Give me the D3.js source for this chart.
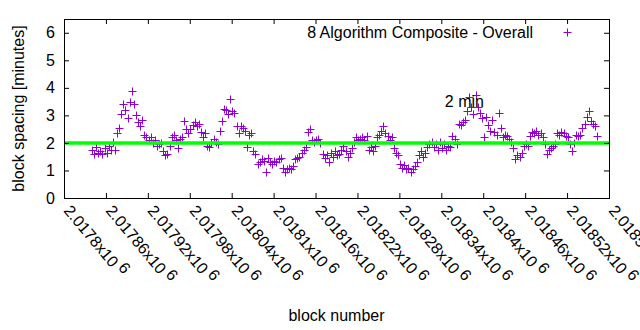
<!DOCTYPE html>
<html>
<head>
<meta charset="utf-8">
<script src="https://cdn.jsdelivr.net/npm/d3@7"></script>
<style>
  html, body { margin: 0; padding: 0; background: #fff; }
  svg { display: block; font-family: "Liberation Sans", Arial, sans-serif; }
</style>
</head>
<body>
<svg id="chart" width="640" height="330"></svg>
<script>
// ---- data ----
const seriesName = "8 Algorithm Composite - Overall";
const targetLabel = "2 min";
const targetValue = 2;
const targetLabelPos = [2018345, 3.5];

const xTickValues = [2017800, 2017860, 2017920, 2017980, 2018040, 2018100, 2018160,
                     2018220, 2018280, 2018340, 2018400, 2018460, 2018520, 2018580];
const xTickMantissas = ["2.0178", "2.01786", "2.01792", "2.01798", "2.01804", "2.0181", "2.01816",
                        "2.01822", "2.01828", "2.01834", "2.0184", "2.01846", "2.01852", "2.01858"];
const yTickValues = [0, 1, 2, 3, 4, 5, 6];

const blocks = [
  2017840, 2017843, 2017846, 2017849, 2017852, 2017855, 2017858, 2017861, 2017864, 2017867,
  2017870, 2017873, 2017876, 2017879, 2017882, 2017885, 2017888, 2017891, 2017894, 2017897,
  2017900, 2017903, 2017906, 2017909, 2017912, 2017915, 2017918, 2017921, 2017924, 2017927,
  2017930, 2017933, 2017936, 2017939, 2017942, 2017945, 2017948, 2017951, 2017954, 2017957,
  2017960, 2017963, 2017966, 2017969, 2017972, 2017975, 2017978, 2017981, 2017984, 2017987,
  2017990, 2017993, 2017996, 2017999, 2018002, 2018005, 2018008, 2018011, 2018014, 2018017,
  2018020, 2018023, 2018026, 2018029, 2018032, 2018035, 2018038, 2018041, 2018044, 2018047,
  2018050, 2018053, 2018056, 2018059, 2018062, 2018065, 2018068, 2018071, 2018074, 2018077,
  2018080, 2018083, 2018086, 2018089, 2018092, 2018095, 2018098, 2018101, 2018104, 2018107,
  2018110, 2018113, 2018116, 2018119, 2018122, 2018125, 2018128, 2018131, 2018134, 2018137,
  2018140, 2018143, 2018146, 2018149, 2018152, 2018155, 2018158, 2018161, 2018164, 2018167,
  2018170, 2018173, 2018176, 2018179, 2018182, 2018185, 2018188, 2018191, 2018194, 2018197,
  2018200, 2018203, 2018206, 2018209, 2018212, 2018215, 2018218, 2018221, 2018224, 2018227,
  2018230, 2018233, 2018236, 2018239, 2018242, 2018245, 2018248, 2018251, 2018254, 2018257,
  2018260, 2018263, 2018266, 2018269, 2018272, 2018275, 2018278, 2018281, 2018284, 2018287,
  2018290, 2018293, 2018296, 2018299, 2018302, 2018305, 2018308, 2018311, 2018314, 2018317,
  2018320, 2018323, 2018326, 2018329, 2018332, 2018335, 2018338, 2018341, 2018344, 2018347,
  2018350, 2018353, 2018356, 2018359, 2018362, 2018365, 2018368, 2018371, 2018374, 2018377,
  2018380, 2018383, 2018386, 2018389, 2018392, 2018395, 2018398, 2018401, 2018404, 2018407,
  2018410, 2018413, 2018416, 2018419, 2018422, 2018425, 2018428, 2018431, 2018434, 2018437,
  2018440, 2018443, 2018446, 2018449, 2018452, 2018455, 2018458, 2018461, 2018464, 2018467,
  2018470, 2018473, 2018476, 2018479, 2018482, 2018485, 2018488, 2018491, 2018494, 2018497,
  2018500, 2018503, 2018506, 2018509, 2018512, 2018515, 2018518, 2018521, 2018524, 2018527,
  2018530, 2018533, 2018536, 2018539, 2018542, 2018545, 2018548, 2018551, 2018554, 2018557,
  2018560, 2018563
];
const spacing = [
  1.75, 1.60, 1.85, 1.65, 1.70, 1.60, 1.80, 1.65, 1.90, 1.75,
  2.05, 1.75, 2.35, 2.55, 3.05, 3.40, 3.20, 2.90, 3.50, 3.90,
  3.40, 3.00, 2.75, 2.60, 2.85, 2.30, 2.20, 2.10, 2.20, 2.00,
  2.10, 1.90, 1.95, 2.00, 1.70, 1.55, 1.60, 1.90, 2.20, 2.30,
  2.10, 1.80, 2.15, 2.20, 2.80, 2.50, 2.35, 2.50, 2.65, 2.75,
  2.60, 2.70, 2.40, 2.20, 2.35, 1.90, 1.85, 2.00, 2.15, 2.05,
  1.95, 2.45, 2.80, 3.25, 3.20, 3.05, 3.60, 3.15, 3.10, 2.60,
  2.35, 2.60, 2.55, 2.45, 1.85, 2.30, 2.35, 1.70, 1.60, 1.25,
  1.30, 1.40, 1.35, 0.95, 1.45, 1.30, 1.25, 1.35, 1.30, 1.40,
  1.45, 1.10, 0.95, 1.05, 1.10, 1.05, 1.15, 1.40, 1.45, 1.50,
  1.65, 1.75, 1.85, 2.40, 2.50, 2.10, 2.05, 2.10, 2.15, 2.00,
  1.60, 1.45, 1.55, 1.30, 1.65, 1.50, 1.70, 1.55, 1.60, 1.75,
  1.90, 1.70, 1.50, 1.65, 1.80, 2.05, 2.20, 2.10, 2.15, 2.20,
  2.10, 2.25, 1.75, 1.85, 1.70, 1.90, 2.20, 2.30, 2.45, 2.60,
  2.35, 2.25, 2.10, 2.20, 1.80, 1.65, 1.55, 1.25, 1.10, 1.20,
  1.05, 1.10, 0.95, 1.05, 1.15, 1.30, 1.55, 1.70, 1.50, 1.65,
  1.85, 1.95, 2.05, 1.85, 1.95, 1.75, 2.05, 1.80, 1.95, 1.75,
  1.90, 1.85, 2.25, 2.15, 1.95, 2.70, 2.65, 2.75, 2.85, 3.15,
  3.65, 3.30, 3.05, 3.75, 3.30, 3.10, 2.90, 2.20, 2.95, 2.65,
  2.45, 2.85, 2.40, 2.30, 3.10, 2.55, 2.20, 2.30, 2.25, 2.15,
  2.05, 1.80, 1.40, 1.55, 1.50, 1.65, 1.90, 1.95, 1.90, 2.25,
  2.40, 2.35, 2.45, 2.30, 2.35, 2.20, 1.95, 1.60, 1.75, 1.80,
  1.90, 1.95, 2.35, 2.30, 2.40, 2.35, 2.25, 2.20, 1.95, 1.70,
  2.00, 2.30, 2.25, 2.30, 2.55, 2.70, 2.95, 3.15, 2.80, 2.70,
  2.60, 2.25
];

// ---- layout ----
const svg = d3.select("#chart");
const margin = {left: 64, right: 31, top: 19, bottom: 132};
const W = 640, H = 330;
const x0 = margin.left, x1 = W - margin.right, y0 = H - margin.bottom, y1 = margin.top;

const x = d3.scaleLinear().domain([2017800, 2018580]).range([x0, x1]);
const y = d3.scaleLinear().domain([0, 6.5]).range([y0, y1]);

const purple = "#9400d3";
const tickLen = 5;

// points
const pts = blocks.map((b, i) => [b, spacing[i]]);
const ms = 4;
svg.append("g").attr("class", "points")
  .selectAll("path").data(pts).join("path")
  .attr("d", d => {
    const px = Math.round(x(d[0])) + 0.5, py = Math.round(y(d[1])) + 0.5;
    return `M${px - ms},${py}H${px + ms}M${px},${py - ms}V${py + ms}`;
  })
  .attr("stroke", purple).attr("stroke-width", 1).attr("fill", "none");

// 2-minute target line
svg.append("line")
  .attr("x1", x.range()[0]).attr("x2", x.range()[1])
  .attr("y1", y(targetValue)).attr("y2", y(targetValue))
  .attr("stroke", "#00ff00").attr("stroke-width", 3.5);

// axes
const fontSize = 16;
const yAxis = d3.axisLeft(y).tickValues(yTickValues).tickSize(-tickLen).tickPadding(9).tickFormat(d3.format("d"));
const gy = svg.append("g").attr("transform", `translate(${x0},0)`).call(yAxis);
const yAxisR = d3.axisRight(y).tickValues(yTickValues).tickSize(-tickLen).tickFormat("");
const gyr = svg.append("g").attr("transform", `translate(${x1},0)`).call(yAxisR);

const xAxis = d3.axisBottom(x).tickValues(xTickValues).tickSize(-tickLen).tickFormat("");
const gx = svg.append("g").attr("transform", `translate(0,${y0})`).call(xAxis);
const xAxisT = d3.axisTop(x).tickValues(xTickValues).tickSize(-tickLen).tickFormat("");
const gxt = svg.append("g").attr("transform", `translate(0,${y1})`).call(xAxisT);

[gy, gyr, gx, gxt].forEach(g => {
  g.select(".domain").remove();
  g.selectAll(".tick line").attr("stroke", "#000").attr("stroke-width", 1);
});
gy.selectAll(".tick text")
  .attr("font-size", fontSize).attr("font-family", "Liberation Sans, Arial, sans-serif")
  .attr("fill", "#000");

// rotated x tick labels with exponent
const xl = svg.append("g").attr("class", "xlabels");
xTickValues.forEach((v, i) => {
  const t = xl.append("text")
    .attr("transform", `translate(${x(v) - 1},${y0 + 13}) rotate(50)`)
    .attr("font-size", fontSize).attr("fill", "#000").attr("text-anchor", "start");
  t.append("tspan").text(xTickMantissas[i] + "x10");
  t.append("tspan").attr("dx", 4).attr("dy", -5).text("6");
});

// frame
svg.append("rect")
  .attr("x", x0 + 0.5).attr("y", y1 + 0.5)
  .attr("width", x1 - x0).attr("height", y0 - y1)
  .attr("fill", "none").attr("stroke", "#000").attr("stroke-width", 1);

// axis titles
svg.append("text")
  .attr("transform", `translate(24,${(y0 + y1) / 2}) rotate(-90)`)
  .attr("text-anchor", "middle").attr("font-size", fontSize).attr("fill", "#000")
  .text("block spacing [minutes]");
svg.append("text")
  .attr("x", (x0 + x1) / 2).attr("y", 321)
  .attr("text-anchor", "middle").attr("font-size", fontSize).attr("fill", "#000")
  .text("block number");

// legend
svg.append("text")
  .attr("x", 533).attr("y", 38)
  .attr("text-anchor", "end").attr("font-size", fontSize).attr("fill", "#000")
  .text(seriesName);
svg.append("path")
  .attr("d", `M${567.5 - ms},32.5H${567.5 + ms}M567.5,${32.5 - ms}V${32.5 + ms}`)
  .attr("stroke", purple).attr("stroke-width", 1);

// target label
svg.append("text")
  .attr("x", x(targetLabelPos[0])).attr("y", y(targetLabelPos[1]))
  .attr("dy", "0.35em")
  .attr("font-size", fontSize).attr("fill", "#000")
  .text(targetLabel);
</script>
</body>
</html>
